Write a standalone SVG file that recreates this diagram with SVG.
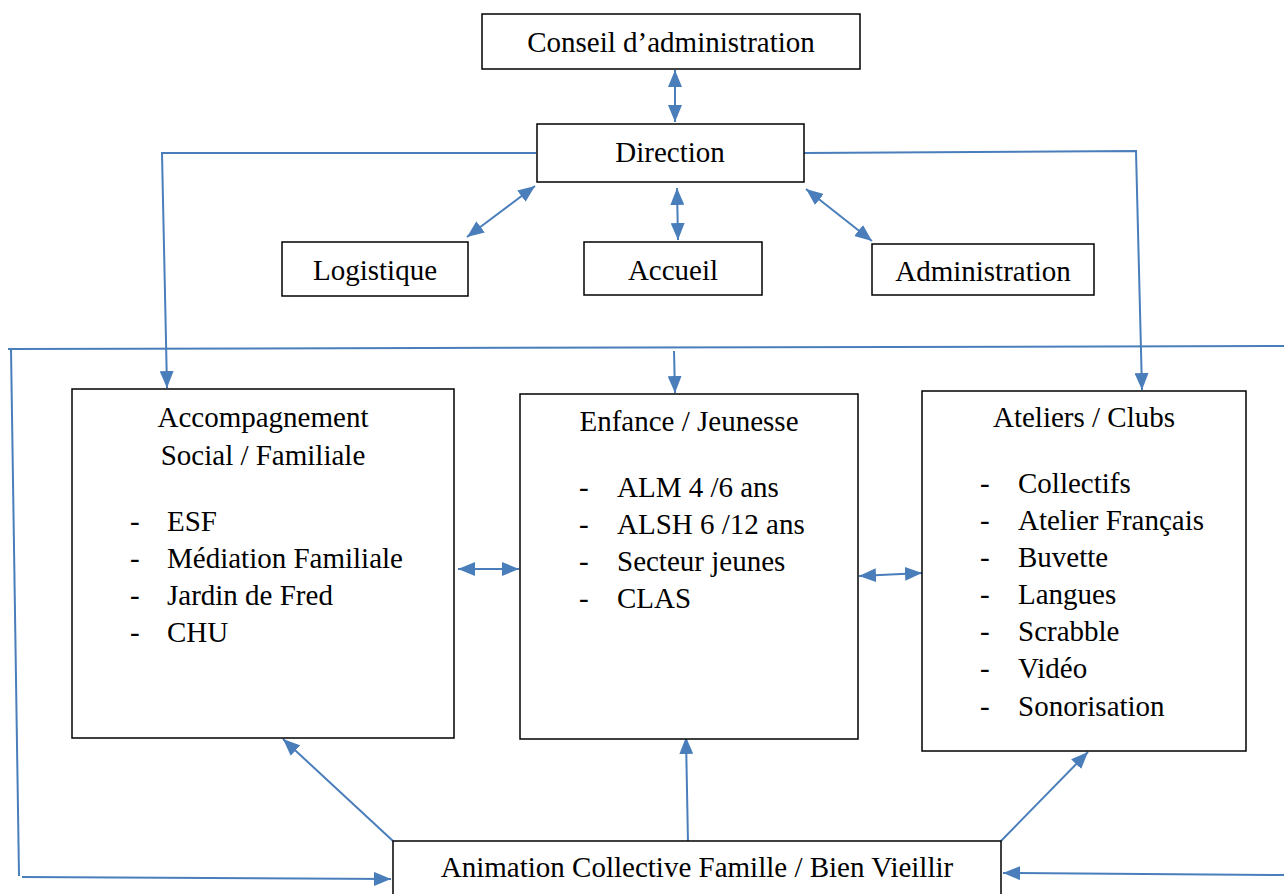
<svg xmlns="http://www.w3.org/2000/svg" width="1284" height="894" viewBox="0 0 1284 894">
<style>
.box{fill:#fff;stroke:#000;stroke-width:1.5}
.t{font-family:"Liberation Serif","Times New Roman",serif;font-size:29px;fill:#000}
.c{text-anchor:middle}
.ln{fill:none;stroke:#4A7EBB;stroke-width:2}
</style>
<defs>
<marker id="ah" viewBox="0 0 17 14" refX="17" refY="7" markerWidth="17" markerHeight="14" markerUnits="userSpaceOnUse" orient="auto-start-reverse">
<path d="M0,0 L17,7 L0,14 z" fill="#4A7EBB"/>
</marker>
</defs>
<rect width="1284" height="894" fill="#fff"/>
<g id="connectors">
<line class="ln" x1="675" y1="70" x2="675" y2="122" marker-start="url(#ah)" marker-end="url(#ah)"/>
<line class="ln" x1="535" y1="186" x2="467" y2="237" marker-start="url(#ah)" marker-end="url(#ah)"/>
<line class="ln" x1="677" y1="188" x2="678" y2="240" marker-start="url(#ah)" marker-end="url(#ah)"/>
<line class="ln" x1="806" y1="189" x2="872" y2="241" marker-start="url(#ah)" marker-end="url(#ah)"/>
<polyline class="ln" points="536,153 162,153 167,388" marker-end="url(#ah)"/>
<polyline class="ln" points="804,153 1136,151 1142,390" marker-end="url(#ah)"/>
<line class="ln" x1="8" y1="349" x2="1284" y2="346"/>
<line class="ln" x1="674" y1="351" x2="675" y2="393" marker-end="url(#ah)"/>
<line class="ln" x1="11" y1="349" x2="19" y2="876"/>
<line class="ln" x1="22" y1="877" x2="391" y2="879" marker-end="url(#ah)"/>
<line class="ln" x1="1284" y1="875" x2="1003" y2="873" marker-end="url(#ah)"/>
<line class="ln" x1="458" y1="569" x2="519" y2="569" marker-start="url(#ah)" marker-end="url(#ah)"/>
<line class="ln" x1="859" y1="576" x2="922" y2="573" marker-start="url(#ah)" marker-end="url(#ah)"/>
<line class="ln" x1="393" y1="841" x2="283" y2="739" marker-end="url(#ah)"/>
<line class="ln" x1="688" y1="843" x2="686" y2="737" marker-end="url(#ah)"/>
<line class="ln" x1="1001" y1="841" x2="1088" y2="752" marker-end="url(#ah)"/>
</g>
<g id="conseil">
<rect class="box" x="482" y="14" width="378" height="55"/>
<text class="t c" x="671" y="52">Conseil d’administration</text>
</g>
<g id="direction">
<rect class="box" x="537" y="124" width="267" height="58"/>
<text class="t c" x="670" y="162">Direction</text>
</g>
<g id="logistique">
<rect class="box" x="282" y="242" width="186" height="54"/>
<text class="t c" x="375" y="280">Logistique</text>
</g>
<g id="accueil">
<rect class="box" x="584" y="242" width="178" height="53"/>
<text class="t c" x="673" y="280">Accueil</text>
</g>
<g id="administration">
<rect class="box" x="872" y="244" width="222" height="51"/>
<text class="t c" x="983" y="281">Administration</text>
</g>
<g id="accompagnement">
<rect class="box" x="72" y="389" width="382" height="349"/>
<text class="t c" x="263" y="427">Accompagnement</text>
<text class="t c" x="263" y="465">Social / Familiale</text>
<text class="t" x="130" y="531">-</text><text class="t" x="167" y="531">ESF</text>
<text class="t" x="130" y="568">-</text><text class="t" x="167" y="568">Médiation Familiale</text>
<text class="t" x="130" y="605">-</text><text class="t" x="167" y="605">Jardin de Fred</text>
<text class="t" x="130" y="642">-</text><text class="t" x="167" y="642">CHU</text>
</g>
<g id="enfance">
<rect class="box" x="520" y="394" width="338" height="345"/>
<text class="t c" x="689" y="431">Enfance / Jeunesse</text>
<text class="t" x="579" y="497">-</text><text class="t" x="617" y="497">ALM 4 /6 ans</text>
<text class="t" x="579" y="534">-</text><text class="t" x="617" y="534">ALSH 6 /12 ans</text>
<text class="t" x="579" y="571">-</text><text class="t" x="617" y="571">Secteur jeunes</text>
<text class="t" x="579" y="608">-</text><text class="t" x="617" y="608">CLAS</text>
</g>
<g id="ateliers">
<rect class="box" x="922" y="391" width="324" height="360"/>
<text class="t c" x="1084" y="427">Ateliers / Clubs</text>
<text class="t" x="980" y="493">-</text><text class="t" x="1018" y="493">Collectifs</text>
<text class="t" x="980" y="530">-</text><text class="t" x="1018" y="530">Atelier Français</text>
<text class="t" x="980" y="567">-</text><text class="t" x="1018" y="567">Buvette</text>
<text class="t" x="980" y="604">-</text><text class="t" x="1018" y="604">Langues</text>
<text class="t" x="980" y="641">-</text><text class="t" x="1018" y="641">Scrabble</text>
<text class="t" x="980" y="678">-</text><text class="t" x="1018" y="678">Vidéo</text>
<text class="t" x="980" y="716">-</text><text class="t" x="1018" y="716">Sonorisation</text>
</g>
<g id="animation">
<rect class="box" x="393" y="841" width="608" height="60"/>
<text class="t c" x="697" y="877">Animation Collective Famille / Bien Vieillir</text>
</g>
</svg>
